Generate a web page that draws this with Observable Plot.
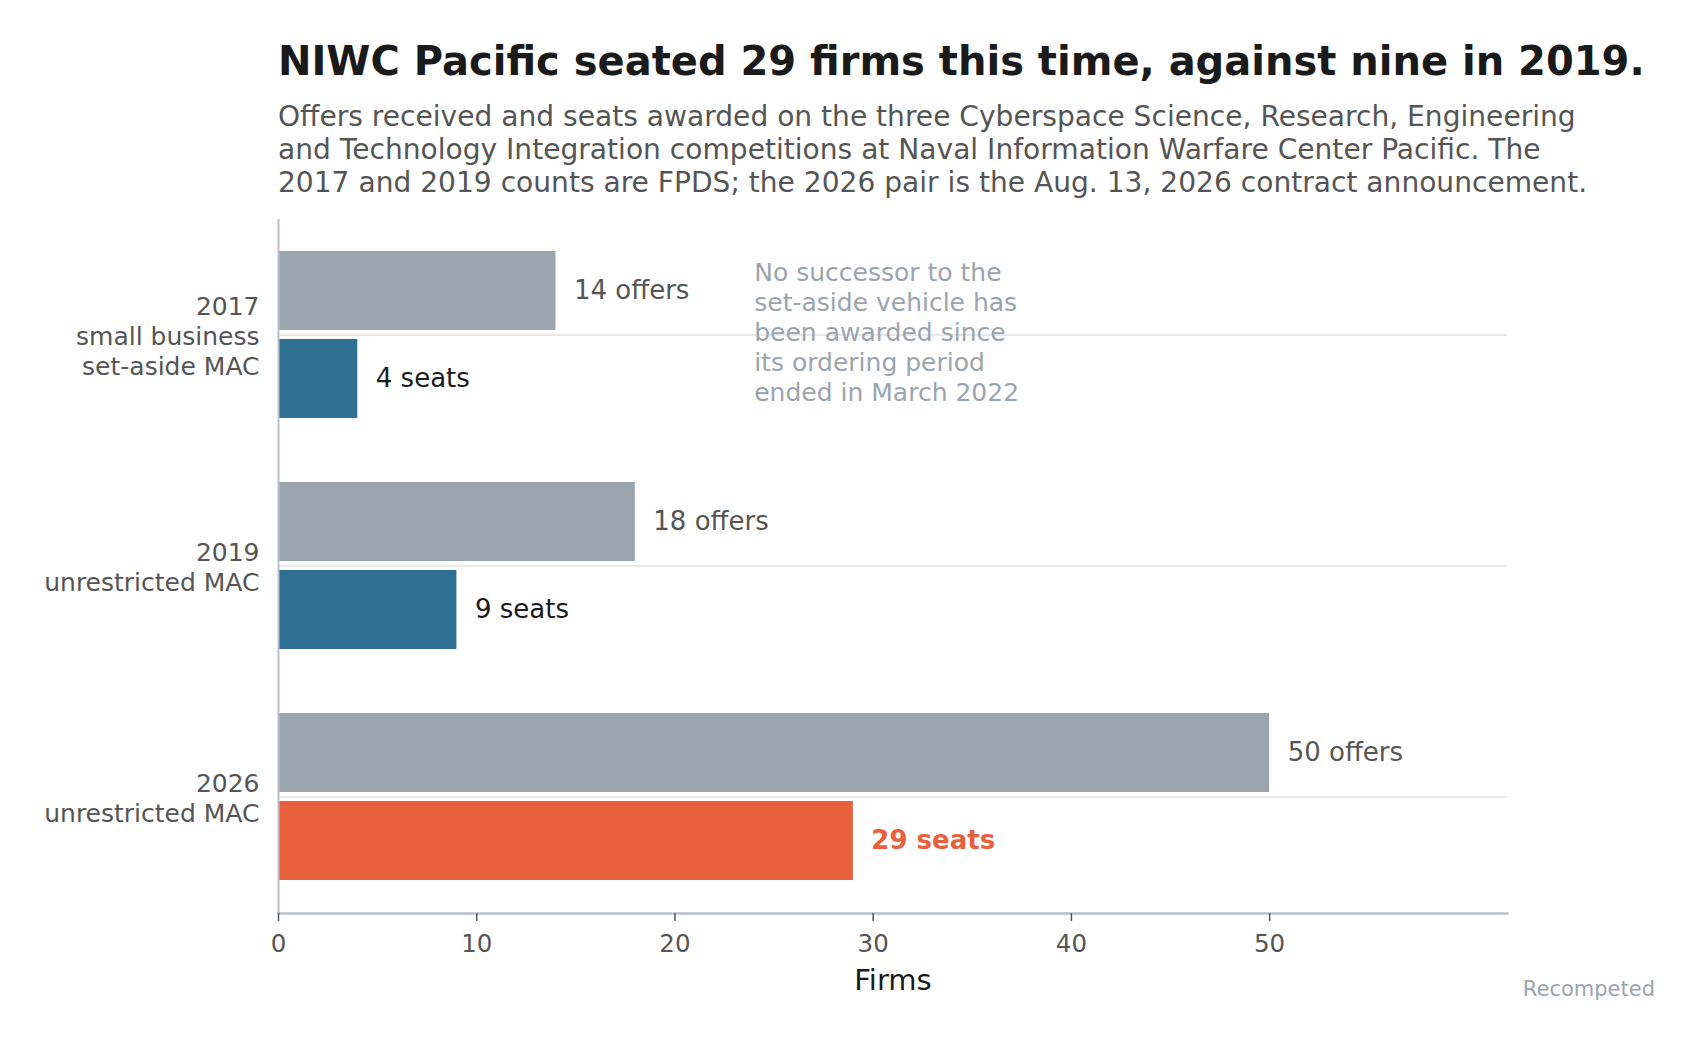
<!DOCTYPE html>
<html><head><meta charset="utf-8">
<script src="https://cdn.jsdelivr.net/npm/d3@7"></script>
<script src="https://cdn.jsdelivr.net/npm/@observablehq/plot@0.6"></script>
<style>
html,body{margin:0;padding:0;background:#fff;}
#wrap{position:relative;width:1700px;height:1046px;font-family:"DejaVu Sans",sans-serif;}
#head{position:relative;height:200px;}
#title{position:absolute;left:278px;top:38px;font-size:40px;line-height:46px;font-weight:bold;color:#1a1a1a;white-space:nowrap;margin:0}
#sub{position:absolute;left:278px;top:100px;font-size:28.1px;line-height:33px;color:#555;white-space:nowrap;margin:0}
#cap{position:absolute;right:45px;top:977px;font-size:21px;line-height:24px;color:#9aa4ad;white-space:nowrap}
</style></head>
<body>
<div id="wrap">
  <div id="head">
    <h1 id="title">NIWC Pacific seated 29 firms this time, against nine in 2019.</h1>
    <p id="sub">Offers received and seats awarded on the three Cyberspace Science, Research, Engineering<br>and Technology Integration competitions at Naval Information Warfare Center Pacific. The<br>2017 and 2019 counts are FPDS; the 2026 pair is the Aug. 13, 2026 contract announcement.</p>
  </div>
  <div id="chart"></div>
  <div id="cap">Recompeted</div>
</div>
<script>
// ---- data ----
const groups = [
  "2017\nsmall business\nset-aside MAC",
  "2019\nunrestricted MAC",
  "2026\nunrestricted MAC"
];
const offers = [14, 18, 50];
const seats = [4, 9, 29];
const highlightGroup = "2026\nunrestricted MAC";
const xTicks = [0, 10, 20, 30, 40, 50];
const xMax = 62;
const xLabel = "Firms";
const noteText = "No successor to the\nset-aside vehicle has\nbeen awarded since\nits ordering period\nended in March 2022";
const noteX = 24;
const noteGroup = groups[0];

const rows = groups.map((g, i) => ({group: g, offers: offers[i], seats: seats[i], highlight: g === highlightGroup}));
const notes = [{x: noteX, group: noteGroup, text: noteText}];

const chart = Plot.plot({
  width: 1700,
  height: 846,
  marginTop: 19,
  marginBottom: 133,
  marginLeft: 278,
  marginRight: 193,
  style: {fontFamily: '"DejaVu Sans", sans-serif', background: "transparent"},
  x: {domain: [0, xMax]},
  y: {domain: groups, paddingInner: 0.277, paddingOuter: 0.1385},
  marks: [
    Plot.gridY({stroke: "#e1e1e1", strokeOpacity: 1, strokeWidth: 1.6}),
    Plot.barX(rows, {y: "group", x: "offers", fill: "#9ba5ae", insetBottom: 88}),
    Plot.barX(rows.filter(d => !d.highlight), {y: "group", x: "seats", fill: "#2e7091", insetTop: 88}),
    Plot.barX(rows.filter(d => d.highlight), {y: "group", x: "seats", fill: "#e8603c", insetTop: 88}),
    Plot.text(rows, {y: "group", x: "offers", text: d => `${d.offers} offers`, dx: 18, dy: -44,
      textAnchor: "start", lineAnchor: "middle", fill: "#555", fontSize: 26}),
    Plot.text(rows.filter(d => !d.highlight), {y: "group", x: "seats", text: d => `${d.seats} seats`, dx: 18, dy: 44,
      textAnchor: "start", lineAnchor: "middle", fill: "#1a1a1a", fontSize: 26}),
    Plot.text(rows.filter(d => d.highlight), {y: "group", x: "seats", text: d => `${d.seats} seats`, dx: 18, dy: 44,
      textAnchor: "start", lineAnchor: "middle", fill: "#e8603c", fontWeight: "bold", fontSize: 26}),
    Plot.text(notes, {x: "x", y: "group", text: "text", textAnchor: "start", lineAnchor: "middle",
      fill: "#9aa4ad", fontSize: 25, lineHeight: 1.2, dy: -4}),
    Plot.ruleX([0], {stroke: "#b9c0c8", strokeWidth: 2}),
    Plot.frame({anchor: "bottom", stroke: "#b9c0c8", strokeWidth: 2.5}),
    Plot.axisX({ticks: xTicks, tickSize: 8, tickPadding: 13, fontSize: 24.5, color: "#555", strokeWidth: 1.5, label: null}),
    Plot.axisY({tickSize: 0, tickPadding: 19, fontSize: 25, color: "#555", lineHeight: 1.2, label: null}),
    Plot.text([xLabel], {text: d => d, frameAnchor: "bottom", dy: 67, lineAnchor: "middle", fontSize: 29, fill: "#1a1a1a"})
  ]
});
document.getElementById("chart").appendChild(chart);
</script>
</body></html>
